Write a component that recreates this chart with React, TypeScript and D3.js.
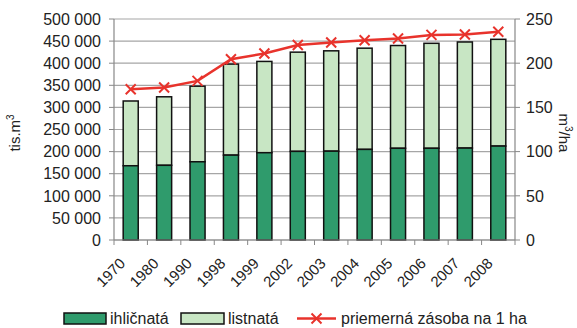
import React from 'react';
import * as d3 from 'd3';

const years = ['1970', '1980', '1990', '1998', '1999', '2002', '2003', '2004', '2005', '2006', '2007', '2008'];
// tis. m3
const ihlicnata = [168000, 169000, 177000, 192000, 197500, 200500, 201000, 205000, 207500, 207500, 208000, 212500];
const celkom = [314500, 324000, 348000, 398000, 404000, 425000, 428000, 434000, 440000, 445000, 448000, 454000];
// m3/ha
const zasoba = [170.5, 172.5, 180, 204.5, 211, 220.5, 223.5, 226, 228, 232, 232.5, 235.5];

const leftTicks = [0, 50000, 100000, 150000, 200000, 250000, 300000, 350000, 400000, 450000, 500000];
const rightTicks = [0, 50, 100, 150, 200, 250];

const W = 577;
const H = 328;
const font = 'Liberation Sans, Arial, sans-serif';

const App: React.FC = () => {
  const left = 114;
  const right = 515;
  const top = 19;
  const bottom = 240;

  const x = d3.scaleBand<string>().domain(years).range([left, right]).paddingInner(0.55).paddingOuter(0.275);
  const yL = d3.scaleLinear().domain([0, 500000]).range([bottom, top]);
  const yR = d3.scaleLinear().domain([0, 250]).range([bottom, top]);

  const fmt = (v: number) => d3.format(',')(v).replace(/,/g, ' ');
  const cx = (d: string) => (x(d) as number) + x.bandwidth() / 2;

  const line = d3
    .line<number>()
    .x((_, i) => cx(years[i]))
    .y((d) => yR(d));

  const step = x.step();
  const dark = '#2f9b6c';
  const light = '#c8e6c4';
  const red = '#e8332c';

  return (
    <svg width={W} height={H} style={{ position: 'absolute', left: 0, top: 0, background: '#fff' }} fontFamily={font}>
      {/* grid */}
      {leftTicks.map((t) => (
        <line key={t} x1={left} x2={right} y1={yL(t)} y2={yL(t)} stroke="#a6a6a6" strokeWidth={1.2} />
      ))}
      {/* bars */}
      {years.map((yr, i) => (
        <g key={yr}>
          <rect x={x(yr)} y={yL(celkom[i])} width={x.bandwidth()} height={yL(ihlicnata[i]) - yL(celkom[i])} fill={light} stroke="#111" strokeWidth={1.5} />
          <rect x={x(yr)} y={yL(ihlicnata[i])} width={x.bandwidth()} height={yL(0) - yL(ihlicnata[i])} fill={dark} stroke="#111" strokeWidth={1.5} />
        </g>
      ))}
      {/* axes */}
      <line x1={left} x2={left} y1={top} y2={bottom} stroke="#888" strokeWidth={1.2} />
      <line x1={right} x2={right} y1={top} y2={bottom} stroke="#888" strokeWidth={1.2} />
      <line x1={left} x2={right} y1={bottom} y2={bottom} stroke="#888" strokeWidth={1.2} />
      {leftTicks.map((t) => (
        <g key={'l' + t}>
          <line x1={left - 5} x2={left} y1={yL(t)} y2={yL(t)} stroke="#888" />
          <text x={101} y={yL(t)} dy="0.36em" textAnchor="end" fontSize={16} fill="#222">
            {fmt(t)}
          </text>
        </g>
      ))}
      {rightTicks.map((t) => (
        <g key={'r' + t}>
          <line x1={right} x2={right + 5} y1={yR(t)} y2={yR(t)} stroke="#888" />
          <text x={526} y={yR(t)} dy="0.36em" textAnchor="start" fontSize={16} fill="#222">
            {t}
          </text>
        </g>
      ))}
      {years.map((yr, i) => (
        <line key={'t' + yr} x1={left + step * i} x2={left + step * i} y1={bottom} y2={bottom + 5} stroke="#888" />
      ))}
      <line x1={right} x2={right} y1={bottom} y2={bottom + 5} stroke="#888" />
      {years.map((yr) => (
        <text key={'x' + yr} transform={`translate(${cx(yr) - 12},${bottom + 17}) rotate(-45)`} textAnchor="end" dy="0.7em" fontSize={15} fill="#222">
          {yr}
        </text>
      ))}
      {/* line */}
      <path d={line(zasoba) || ''} fill="none" stroke={red} strokeWidth={2.5} />
      {zasoba.map((v, i) => {
        const px = cx(years[i]);
        const py = yR(v);
        return (
          <path key={'m' + i} d={`M${px - 5},${py - 5}L${px + 5},${py + 5}M${px - 5},${py + 5}L${px + 5},${py - 5}`} stroke={red} strokeWidth={2} />
        );
      })}
      {/* axis titles */}
      <text transform="translate(20,133) rotate(-90)" textAnchor="middle" fontSize={15} fill="#222">
        tis.m<tspan dy="-6" fontSize={10}>3</tspan>
      </text>
      <text transform="translate(559,133) rotate(90)" textAnchor="middle" fontSize={15} fill="#222">
        m<tspan dy="-6" fontSize={10}>3</tspan>
        <tspan dy="6">/ha</tspan>
      </text>
      {/* legend */}
      <rect x={64} y={313} width={42} height={11} fill={dark} stroke="#111" strokeWidth={1.5} />
      <text x={110} y={324} fontSize={16} fill="#222">ihličnatá</text>
      <rect x={181} y={313} width={43} height={11} fill={light} stroke="#111" strokeWidth={1.5} />
      <text x={228} y={324} fontSize={16} fill="#222">listnatá</text>
      <line x1={297} x2={336} y1={318.5} y2={318.5} stroke={red} strokeWidth={2.5} />
      <path d="M311.5,313.5L321.5,323.5M311.5,323.5L321.5,313.5" stroke={red} strokeWidth={2} />
      <text x={341} y={324} fontSize={16} fill="#222">priemerná zásoba na 1 ha</text>
    </svg>
  );
};

export default App;
